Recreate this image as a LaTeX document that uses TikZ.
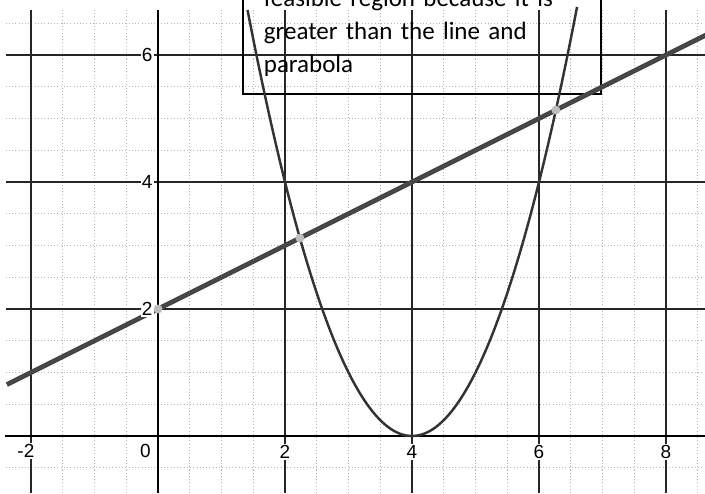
\documentclass[tikz,border=0pt]{standalone}
\usepackage{fontspec}
\setmainfont{Liberation Sans}
\newfontfamily\notefont[WordSpace=0.7]{Carlito}
\usetikzlibrary{positioning}
\definecolor{gridgray}{HTML}{B4B4B4}
\definecolor{linegray}{HTML}{474747}
\definecolor{dotgray}{HTML}{BDBDBD}

\begin{document}
\begin{tikzpicture}[font=\fontsize{8.5}{10}\selectfont,
 minor/.style={gridgray,densely dotted,line width=.45pt},
 major/.style={black!85,line width=.6pt},
 axis/.style={black,line width=1.2pt},
 ticklabel/.style={fill=white,inner sep=.6pt},
 crossing/.style={circle,fill=dotgray,inner sep=0pt,minimum size=.14cm},
 note/.style={draw=black,line width=1pt,anchor=south west,align=left,text width=4.98cm,
  inner xsep=.33cm,inner ysep=.28cm,font=\notefont\fontsize{11.2}{14.8}\selectfont}]
\clip (-2.488,-0.898) rectangle (8.614,6.866);
\foreach \x in {-2,-1.5,...,8.5} \draw[minor] (\x,-0.9) -- (\x,6.71);
\foreach \y in {-0.5,0,...,6.5} \draw[minor] (-2.4,\y) -- (8.7,\y);
\foreach \x in {-2,2,4,6,8} \draw[major] (\x,-0.9) -- (\x,6.71);
\foreach \y in {2,4,6} \draw[major] (-2.4,\y) -- (8.7,\y);
\draw[axis] (-2.41,0) -- (8.7,0);
\draw[axis] (0,-0.9) -- (0,6.71);
\node[note] (note) at (1.32,5.37) {feasible region because it is\\greater than the line and\\parabola};
\draw[linegray,line width=2.2pt,domain=-2.38:8.7,samples=2] plot (\x,{0.5*\x+2});
\draw[black!80,line width=1.1pt,domain=1.41:6.6,samples=80,smooth] plot (\x,{(\x-4)^2});
\node[crossing] (p0) at (0,2) {};
\node[crossing] (pA) at (2.2344,3.1172) {};
\node[crossing] (pB) at (6.2656,5.1328) {};
\node[ticklabel] (xm2) at (-2.08,-0.24) {-2};
\node[ticklabel] (x0) at (-0.2,-0.24) {0};
\foreach \x in {2,4,6,8} \node[ticklabel] (x\x) at (\x,-0.25) {\x};
\foreach \y in {2,4,6} \node[ticklabel] (y\y) at (-0.17,\y) {\y};
\end{tikzpicture}
\end{document}
